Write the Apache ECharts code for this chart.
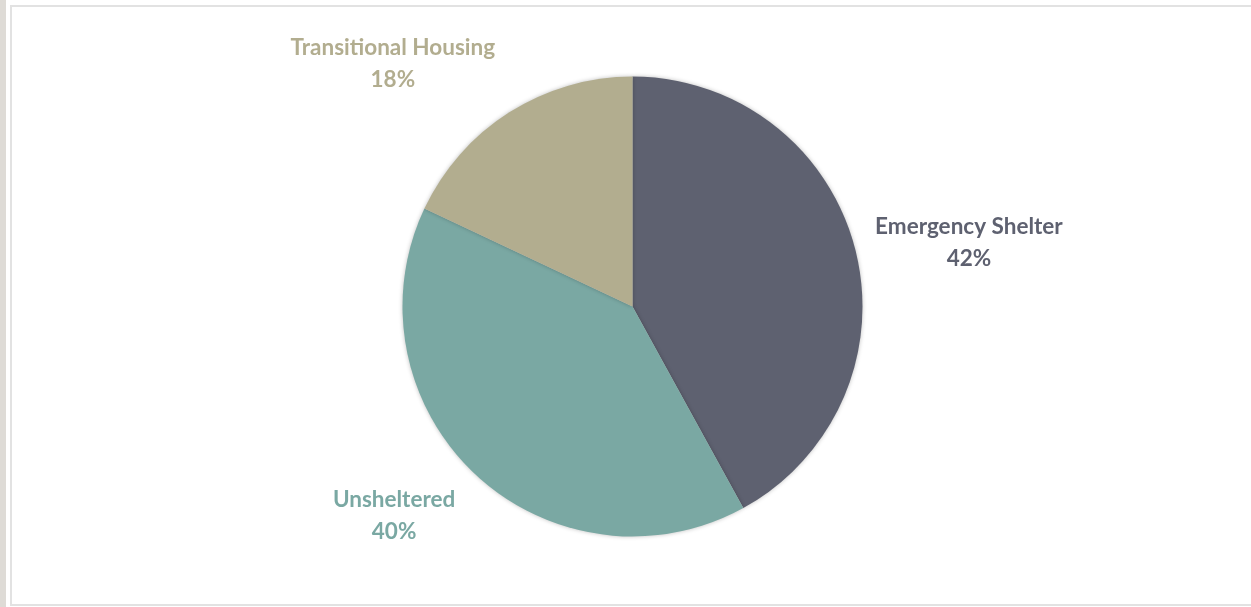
<!DOCTYPE html>
<html>
<head>
<meta charset="utf-8">
<script src="https://cdn.jsdelivr.net/npm/echarts@6/dist/echarts.min.js"></script>
<style>
  html, body { margin: 0; padding: 0; background: #ffffff; }
  #strip { position: absolute; left: 0; top: 0; width: 6px; height: 607px; background: #dedbd6; }
  #frame { position: absolute; left: 10px; top: 5px; width: 1260px; height: 597px; border: 2px solid #e2e2e2; box-sizing: content-box; }
  #chart { position: absolute; left: 0; top: 0; width: 1251px; height: 607px; }
</style>
</head>
<body>
<div id="strip"></div>
<div id="frame"></div>
<div id="chart"></div>
<script>
const categories = ['Emergency Shelter', 'Unsheltered', 'Transitional Housing'];
const values = [42, 40, 18];
const colors = ['#5e6170', '#7aa8a3', '#b2ad8f'];
// label anchor positions (fraction of chart width/height)
const labelAnchors = [[0.7745, 0.400], [0.315, 0.850], [0.314, 0.105]];

const chart = echarts.init(document.getElementById('chart'));
chart.setOption({
  animation: false,
  series: [{
    type: 'pie',
    center: [632.5, 306.5],
    radius: 230,
    startAngle: 90,
    clockwise: true,
    data: categories.map((c, i) => ({
      name: c,
      value: values[i],
      itemStyle: { color: colors[i] },
      label: { color: colors[i] }
    })),
    itemStyle: {
      borderWidth: 0,
      shadowBlur: 4,
      shadowColor: 'rgba(0,0,0,0.25)'
    },
    label: {
      show: true,
      formatter: '{b}\n{d}%',
      fontFamily: 'Lato, "Open Sans", sans-serif',
      fontWeight: 'bold',
      fontSize: 22.5,
      lineHeight: 32,
      align: 'center'
    },
    labelLine: { show: false },
    labelLayout: function (p) {
      const a = labelAnchors[p.dataIndex];
      return {
        x: a[0] * 1251,
        y: a[1] * 607,
        align: 'center',
        verticalAlign: 'middle'
      };
    }
  }]
});
</script>
</body>
</html>
